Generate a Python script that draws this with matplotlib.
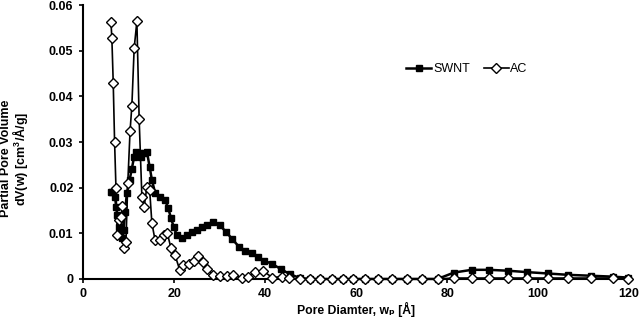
import numpy as np
import matplotlib.pyplot as plt

plt.rcParams['font.family'] = ['Liberation Sans', 'DejaVu Sans']

# Pore diameter [A] and partial pore volume for SWNT
swnt_w = [6.15, 6.4, 7.0, 7.25, 7.5, 7.8, 8.1, 8.5, 8.9, 9.2, 9.6, 10.2, 10.7,
          11.2, 11.6, 12.2, 12.7, 13.3, 14.0, 14.6, 15.1, 15.8, 16.9, 18.0,
          18.7, 19.3, 19.9, 20.6, 21.7, 22.8, 23.9, 25.0, 26.1, 27.2, 28.6,
          30.0, 31.4, 32.8, 34.2, 35.6, 37.0, 38.4, 39.8, 41.5, 43.4, 45.5,
          47.7, 49.9, 52.1, 54.7, 57.1, 59.3, 61.9, 64.8, 67.8, 71.2, 74.4,
          77.9, 81.5, 85.4, 89.2, 93.4, 97.5, 102.1, 106.6, 111.7, 116.5, 119.8]
swnt_v = [0.0191, 0.0190, 0.0180, 0.0158, 0.0141, 0.0114, 0.0100, 0.0089,
          0.0107, 0.0147, 0.0188, 0.0217, 0.0242, 0.0268, 0.0279, 0.0275,
          0.0268, 0.0275, 0.0279, 0.0246, 0.0217, 0.0189, 0.0180, 0.0173,
          0.0155, 0.0133, 0.0114, 0.0096, 0.0089, 0.0096, 0.0103, 0.0107,
          0.0113, 0.0118, 0.0124, 0.0118, 0.0103, 0.0087, 0.0071, 0.0062,
          0.0056, 0.0048, 0.0040, 0.0033, 0.0022, 0.0010, 0.0002, 0.0, 0.0,
          0.0, 0.0, 0.0, 0.0, 0.0, 0.0, 0.0, 0.0, 0.0, 0.0014, 0.0020, 0.0020,
          0.0018, 0.0015, 0.0012, 0.0009, 0.0007, 0.0005, 0.0003]

# Pore diameter [A] and partial pore volume for activated carbon
ac_w = [6.1, 6.3, 6.6, 6.9, 7.2, 7.5, 7.9, 8.3, 8.6, 9.0, 9.4, 9.8, 10.3,
        10.7, 11.2, 11.8, 12.3, 12.9, 13.4, 14.0, 14.6, 15.1, 15.8, 16.9,
        17.8, 18.5, 19.3, 20.2, 21.2, 22.0, 23.3, 24.4, 25.3, 26.3, 27.2,
        28.6, 30.1, 31.6, 33.0, 34.9, 36.3, 37.8, 39.6, 41.6, 43.6, 45.3,
        47.7, 49.9, 52.1, 54.7, 57.1, 59.3, 61.9, 64.8, 67.8, 71.2, 74.4,
        77.9, 81.5, 85.4, 89.2, 93.4, 97.5, 102.1, 106.6, 111.7, 116.5, 119.8]
ac_v = [0.0563, 0.0528, 0.0430, 0.0300, 0.0200, 0.0097, 0.0129, 0.0136,
        0.0160, 0.0068, 0.0082, 0.0210, 0.0324, 0.0380, 0.0505, 0.0565,
        0.0350, 0.0180, 0.0158, 0.0202, 0.0196, 0.0122, 0.0085, 0.0085,
        0.0096, 0.0100, 0.0067, 0.0052, 0.0020, 0.0030, 0.0033, 0.0040,
        0.0050, 0.0038, 0.0021, 0.0009, 0.0007, 0.0007, 0.0008, 0.0003,
        0.0005, 0.0015, 0.0017, 0.0003, 0.0005, 0.0001, 0.0, 0.0, 0.0, 0.0,
        0.0, 0.0, 0.0, 0.0, 0.0, 0.0, 0.0, 0.0, 0.0002, 0.0002, 0.0002,
        0.0002, 0.0002, 0.0002, 0.0002, 0.0002, 0.0002, 0.0]

x_ticks = [0, 20, 40, 60, 80, 100, 120]
y_ticks = [0, 0.01, 0.02, 0.03, 0.04, 0.05, 0.06]
y_tick_labels = ['0', '0.01', '0.02', '0.03', '0.04', '0.05', '0.06']

fig = plt.figure(figsize=(6.4, 3.21), dpi=100)
ax = fig.add_axes([0.13, 0.131, 0.853, 0.853])

ax.plot(swnt_w, swnt_v, color='black', lw=1.8, marker='s', ms=4.8,
        mfc='black', mec='black', label='SWNT', clip_on=False, zorder=3)
ax.plot(ac_w, ac_v, color='black', lw=1.2, marker='D', ms=5.0,
        mfc='white', mec='black', mew=1.0, label='AC', clip_on=False, zorder=4)

ax.set_xlim(0, 120)
ax.set_ylim(0, 0.06)
ax.set_xticks(x_ticks)
ax.set_yticks(y_ticks)
ax.set_yticklabels(y_tick_labels)

for s in ['top', 'right']:
    ax.spines[s].set_visible(False)
for s in ['left', 'bottom']:
    ax.spines[s].set_linewidth(1.5)

ax.tick_params(direction='out', length=3, width=1.2, labelsize=9, pad=4)
ax.tick_params(axis='x', pad=3.5)
for lab in ax.get_xticklabels() + ax.get_yticklabels():
    lab.set_fontweight('bold')

ax.set_xlabel('Pore Diamter, wₚ [Å]', fontsize=8.8, fontweight='bold')
ax.xaxis.set_label_coords(0.5, -0.083)
ax.set_ylabel('Partial Pore Volume\n' + r'dV(w) [cm$^\mathregular{3}$/Å/g]',
              fontsize=9, fontweight='bold', linespacing=0.9)
ax.yaxis.set_label_coords(-0.097, 0.44)

ax.legend(loc='center left', bbox_to_anchor=(0.617, 0.785),
          bbox_transform=fig.transFigure, ncol=2, frameon=False,
          fontsize=9, handlelength=2.0, handletextpad=0.15, columnspacing=1.1)

fig.savefig('out.png', dpi=100)
